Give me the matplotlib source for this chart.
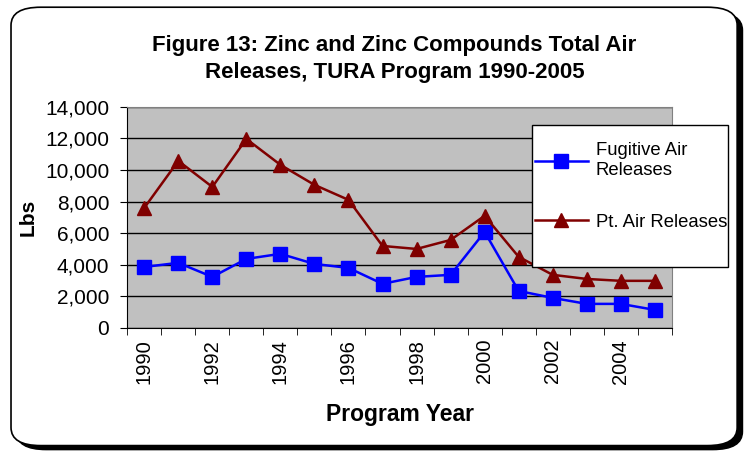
import matplotlib
matplotlib.use("Agg")
from matplotlib import pyplot as plt
from matplotlib.patches import FancyBboxPatch, Rectangle

"""
Zinc and zinc compounds air releases, TURA program 1990-2005
"""

years = list(range(1990, 2006))
fugitive = [3860, 4120, 3230, 4370, 4690, 4050, 3800, 2790,
            3230, 3360, 6080, 2340, 1900, 1520, 1520, 1140]
point = [7600, 10580, 8930, 11970, 10330, 9060, 8110, 5190,
         5000, 5570, 7100, 4500, 3360, 3100, 2980, 2980]
y_ticks = [0, 2000, 4000, 6000, 8000, 10000, 12000, 14000]

plt.rcParams['font.family'] = ['Liberation Sans', 'DejaVu Sans']

fig = plt.figure(figsize=(7.44, 4.51), dpi=100)

# rounded border with shadow
shadow = FancyBboxPatch((0.022, 0.003), 0.976, 0.97,
                        boxstyle="round,pad=0,rounding_size=0.04",
                        transform=fig.transFigure, facecolor='black',
                        edgecolor='black', zorder=0)
border = FancyBboxPatch((0.0148, 0.012), 0.976, 0.972,
                        boxstyle="round,pad=0,rounding_size=0.04",
                        transform=fig.transFigure, facecolor='white',
                        edgecolor='black', linewidth=1.2, zorder=1)
fig.patches.extend([shadow, border])

ax = fig.add_axes([0.171, 0.273, 0.732, 0.49])
ax.set_zorder(2)
ax.set_facecolor('#C0C0C0')

x = list(range(len(years)))
ax.plot(x, fugitive, color='#0000FF', marker='s', markersize=9.5,
        linewidth=1.8, label='Fugitive Air\nReleases')
ax.plot(x, point, color='#800000', marker='^', markersize=10.5,
        linewidth=1.8, label='Pt. Air Releases')

ax.set_xlim(-0.5, len(years) - 0.5)
ax.set_ylim(0, 14000)
ax.set_yticks(y_ticks)
ax.set_yticklabels(['{:,}'.format(v) for v in y_ticks], fontsize=15)
ax.set_xticks(x[::2])
ax.set_xticklabels([str(y) for y in years[::2]], rotation=90, fontsize=14.5)
ax.set_xticks([i - 0.5 for i in range(len(years) + 1)], minor=True)
ax.tick_params(axis='x', which='major', length=0, pad=8)
ax.tick_params(axis='x', which='minor', length=5, direction='out')
ax.tick_params(axis='y', length=5, direction='out', pad=8)
ax.grid(axis='y', color='black', linewidth=1)
ax.set_axisbelow(True)
for side in ['top', 'right']:
    ax.spines[side].set_color('#808080')
for side in ['left', 'bottom']:
    ax.spines[side].set_color('black')

ax.set_ylabel('Lbs', fontsize=15, fontweight='bold', labelpad=5)
ax.set_xlabel('Program Year', fontsize=16.5, fontweight='bold', labelpad=14)

fig.text(0.53, 0.869, 'Figure 13: Zinc and Zinc Compounds Total Air\n'
         'Releases, TURA Program 1990-2005', ha='center', va='center',
         fontsize=16, fontweight='bold', linespacing=1.35, zorder=3)

# legend box drawn by hand, Excel style
ax.add_patch(Rectangle((0.743, 0.276), 0.36, 0.643, transform=ax.transAxes,
                       facecolor='white', edgecolor='black', linewidth=1,
                       clip_on=False, zorder=4))
leg = ax.legend(loc='upper left', bbox_to_anchor=(0.748, 0.84),
                fontsize=13.3, frameon=False, borderpad=0, borderaxespad=0,
                labelspacing=1.9, handlelength=2.9, handletextpad=0.4)
leg.set_zorder(5)

plt.savefig('out.png', dpi=100)
plt.close()
